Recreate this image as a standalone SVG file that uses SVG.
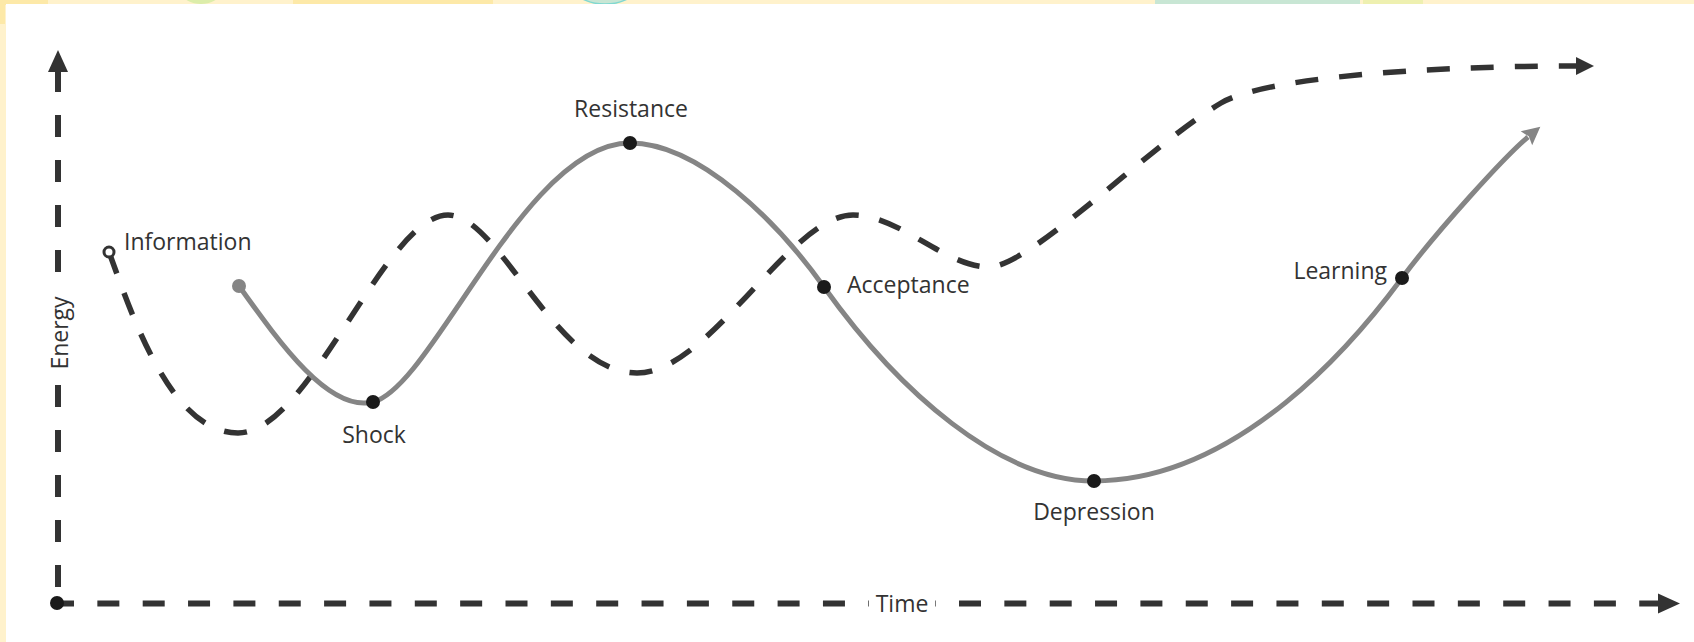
<svg xmlns="http://www.w3.org/2000/svg" width="1694" height="642" viewBox="0 0 1694 642">
<style>
.lbl{font-family:"Open Sans","Liberation Sans",sans-serif;font-size:23px;fill:#333333}
.ax{font-family:"Open Sans","Liberation Sans",sans-serif;font-size:23px;fill:#333333}
.dot{fill:#1a1a1a}
.axis{fill:none;stroke:#333333;stroke-width:6}
.dash{fill:none;stroke:#333333;stroke-width:5.5;stroke-dasharray:23 21}
.solid{fill:none;stroke:#858585;stroke-width:5}
</style>
<defs>
<marker id="arrDark" markerUnits="userSpaceOnUse" markerWidth="24" markerHeight="22" refX="0" refY="10" orient="auto" overflow="visible">
<path d="M0,0 L22,10 L0,20 z" fill="#333333"/>
</marker>
<marker id="arrDash" markerUnits="userSpaceOnUse" markerWidth="20" markerHeight="20" refX="0" refY="9" orient="auto" overflow="visible">
<path d="M0,0 L18,9 L0,18 z" fill="#333333"/>
</marker>
<marker id="arrGray" markerUnits="userSpaceOnUse" markerWidth="20" markerHeight="20" refX="2" refY="9" orient="auto" overflow="visible">
<path d="M0,0 L18,9 L0,18 L3,9 z" fill="#858585"/>
</marker>
</defs>
<g id="background">
<rect x="0" y="0" width="1694" height="642" fill="#fff2cc"/>
<rect x="0" y="0" width="48" height="5" fill="#fde9a8"/>
<rect x="0" y="0" width="5" height="24" fill="#fde9a8"/>
<ellipse cx="201" cy="-6" rx="18" ry="10" fill="#dcedaa"/>
<rect x="293" y="0" width="200" height="5" fill="#fde9a8"/>
<ellipse cx="605" cy="-10" rx="29" ry="14" fill="#c8e6d4" stroke="#80d8d0" stroke-width="1.5"/>
<rect x="1155" y="0" width="205" height="5" fill="#c8e6d4"/>
<rect x="1363" y="0" width="60" height="5" fill="#eef0b0"/>
<rect x="6" y="4" width="1688" height="638" fill="#ffffff"/>
</g>
<g id="connectors">
<path id="y-axis" class="axis" d="M58,603 V72" stroke-dasharray="22 23" stroke-dashoffset="29" marker-end="url(#arrDark)"/>
<path id="x-axis" class="axis" d="M57,603.5 H1658" stroke-dasharray="22 23.35" stroke-dashoffset="5" marker-end="url(#arrDark)"/>
<path id="energy-curve" class="dash" d="M109,252 C131,312 170,433 238,433 C310,433 385,215 448,215 C500,215 555,373 637,373 C710,373 790,215 853,215 C900,215 945,267 989,267 C1030,267 1150,145 1221,103 C1264,78 1420,66 1576,66" marker-end="url(#arrDash)"/>
<path id="change-curve" class="solid" d="M239,286 C279,342 329,413 373,402 C433,387 525,143 630,143 C700,143 779,224 824,287 C899,392 1000,481 1094,481 C1240,481 1357,339 1402,278 C1437,231 1505,156 1528,137" marker-end="url(#arrGray)"/>
</g>
<g id="axis-labels">
<g id="label-energy">
<rect x="48" y="272" width="32" height="112" fill="#ffffff"/>
<text class="ax" transform="translate(68,333) rotate(-90)" text-anchor="middle">Energy</text>
</g>
<g id="label-time">
<rect x="869" y="590" width="66" height="28" fill="#ffffff"/>
<text class="ax" x="902" y="612" text-anchor="middle">Time</text>
</g>
<g id="origin"><circle class="dot" cx="57" cy="603" r="7"/></g>
</g>
<g id="node-information">
<circle cx="109" cy="252" r="5" fill="#ffffff" stroke="#333333" stroke-width="3"/>
<text class="lbl" x="124" y="250">Information</text>
</g>
<g id="node-start"><circle cx="239" cy="286" r="7" fill="#858585"/></g>
<g id="node-shock">
<circle class="dot" cx="373" cy="402" r="7"/>
<text class="lbl" x="374" y="443" text-anchor="middle">Shock</text>
</g>
<g id="node-resistance">
<circle class="dot" cx="630" cy="143" r="7"/>
<text class="lbl" x="631" y="117" text-anchor="middle">Resistance</text>
</g>
<g id="node-acceptance">
<circle class="dot" cx="824" cy="287" r="7"/>
<text class="lbl" x="847" y="293">Acceptance</text>
</g>
<g id="node-depression">
<circle class="dot" cx="1094" cy="481" r="7"/>
<text class="lbl" x="1094" y="520" text-anchor="middle">Depression</text>
</g>
<g id="node-learning">
<circle class="dot" cx="1402" cy="278" r="7"/>
<text class="lbl" x="1387" y="279" text-anchor="end">Learning</text>
</g>
</svg>
